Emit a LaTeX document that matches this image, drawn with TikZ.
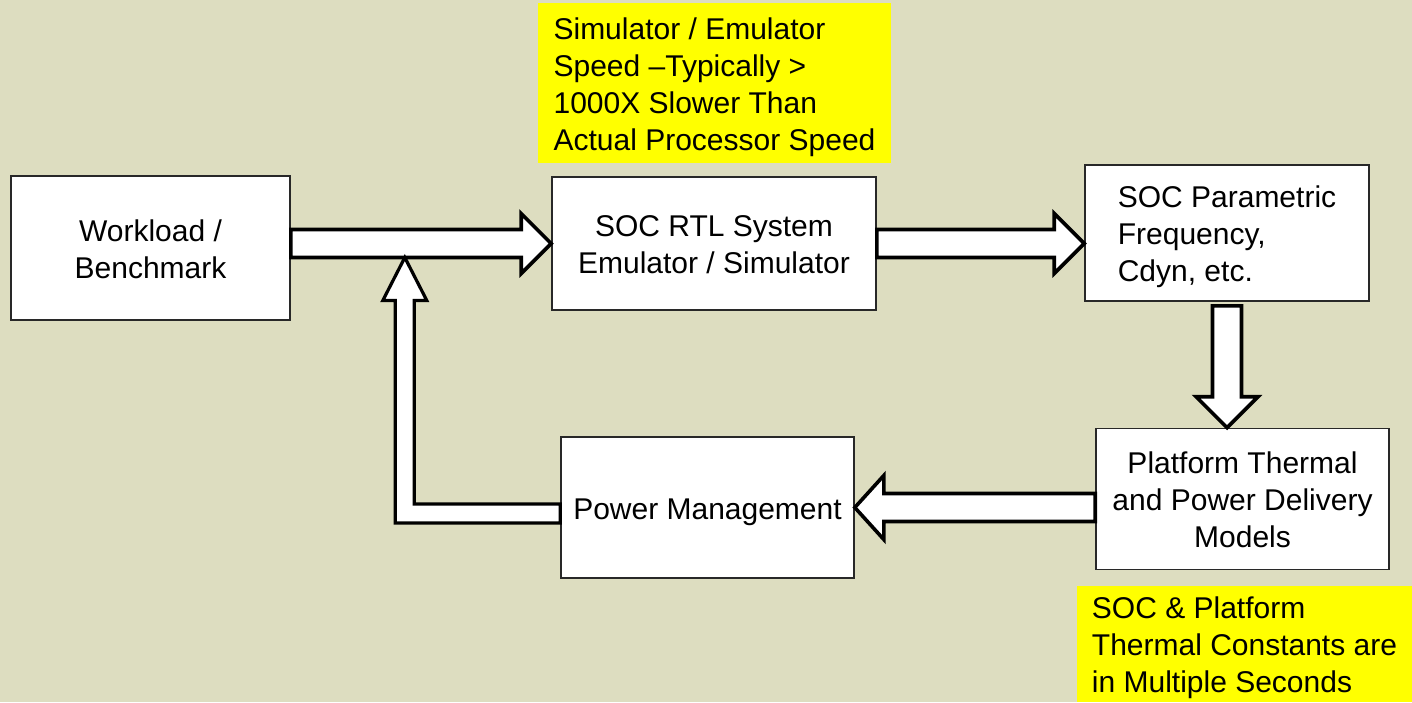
\documentclass[tikz,border=0pt]{standalone}
\usepackage{fontspec}
\setmainfont{Liberation Sans}
\usetikzlibrary{calc}
\definecolor{bg}{RGB}{221,221,192}
\definecolor{boxline}{RGB}{40,40,40}
\definecolor{noteyellow}{RGB}{255,255,0}
\newcommand\firstln{\rule{0pt}{15pt}}
\begin{document}
\begin{tikzpicture}[x=0.5pt,y=-0.5pt,
  txt/.style={font=\fontsize{15}{18.5}\selectfont, inner sep=0pt,
    execute at end node={\rule[-3.2pt]{0pt}{3.2pt}}},
  box/.style={txt, draw=boxline, line width=0.8pt, fill=white, align=center},
  note/.style={txt, fill=noteyellow, align=left},
  barrow/.style={draw=black, fill=white, line width=1.8pt, line join=miter}]
\fill[bg] (0,0) rectangle (1412,702);
\useasboundingbox (0,0) rectangle (1412,702);

\node[box, minimum width=139.5pt, minimum height=72pt] (wl) at (150.5,248) {\firstln Workload /\\Benchmark};
\node[box, minimum width=162pt, minimum height=66.5pt] (rtl) at (714,243.5) {\firstln SOC RTL System\\Emulator / Simulator};
\node[box, minimum width=142pt, minimum height=68pt, align=left] (par) at (1227,233) {\firstln SOC Parametric\\Frequency,\\Cdyn, etc.};
\node[box, minimum width=146.5pt, minimum height=70.5pt] (ptm) at (1242.5,499) {\firstln Platform Thermal\\and Power Delivery\\Models};
\node[box, minimum width=146.5pt, minimum height=70.5pt] (pm) at (707.5,507.5) {\firstln Power Management};

\node[note, minimum width=176.5pt, minimum height=80pt] (n1) at (714.5,83) {\firstln Simulator / Emulator\\Speed –Typically >\\1000X Slower Than\\Actual Processor Speed};
\node[note, minimum width=167.5pt, minimum height=58pt] (n2) at (1244.5,644) {\firstln SOC \& Platform\\Thermal Constants are\\in Multiple Seconds};

% A1: workload -> RTL
\coordinate (a1s) at (wl.east |- rtl.west);
\coordinate (a1e) at (rtl.west);
\draw[barrow] ($(a1s)+(0,-14)$) -- ($(a1e)+(-30,-14)$) -- ($(a1e)+(-30,-30)$) -- (a1e)
  -- ($(a1e)+(-30,30)$) -- ($(a1e)+(-30,14)$) -- ($(a1s)+(0,14)$) -- cycle;

% A2: RTL -> parametric
\coordinate (a2s) at (rtl.east);
\coordinate (a2e) at (par.west |- rtl.east);
\draw[barrow] ($(a2s)+(0,-14)$) -- ($(a2e)+(-30,-14)$) -- ($(a2e)+(-30,-30)$) -- (a2e)
  -- ($(a2e)+(-30,30)$) -- ($(a2e)+(-30,14)$) -- ($(a2s)+(0,14)$) -- cycle;

% A3: parametric -> platform
\coordinate (a3s) at ($(par.south)+(0,4)$);
\coordinate (a3e) at (par.south |- ptm.north);
\draw[barrow] ($(a3s)+(-14.5,0)$) -- ($(a3e)+(-14.5,-31)$) -- ($(a3e)+(-31,-31)$) -- (a3e)
  -- ($(a3e)+(31,-31)$) -- ($(a3e)+(14.5,-31)$) -- ($(a3s)+(14.5,0)$) -- cycle;

% A4: platform -> power management
\coordinate (a4s) at (ptm.west |- pm.east);
\coordinate (a4e) at (pm.east);
\draw[barrow] ($(a4s)+(0,-14)$) -- ($(a4e)+(29,-14)$) -- ($(a4e)+(29,-32)$) -- (a4e)
  -- ($(a4e)+(29,32)$) -- ($(a4e)+(29,14)$) -- ($(a4s)+(0,14)$) -- cycle;

% A5: power management -> back into the first arrow
\coordinate (a5s) at ($(pm.west)+(0,6)$);
\coordinate (a5t) at ($(a1s)+(114,14)$);
\coordinate (a5c) at (a5t |- a5s);
\draw[barrow, line width=1.6pt] ($(a5s)+(0,-9.5)$) -- ($(a5c)+(9.5,-9.5)$) -- ($(a5t)+(9.5,43)$)
  -- ($(a5t)+(22,43)$) -- (a5t) -- ($(a5t)+(-22,43)$) -- ($(a5t)+(-9.5,43)$)
  -- ($(a5c)+(-9.5,9.5)$) -- ($(a5s)+(0,9.5)$) -- cycle;
\end{tikzpicture}
\end{document}
